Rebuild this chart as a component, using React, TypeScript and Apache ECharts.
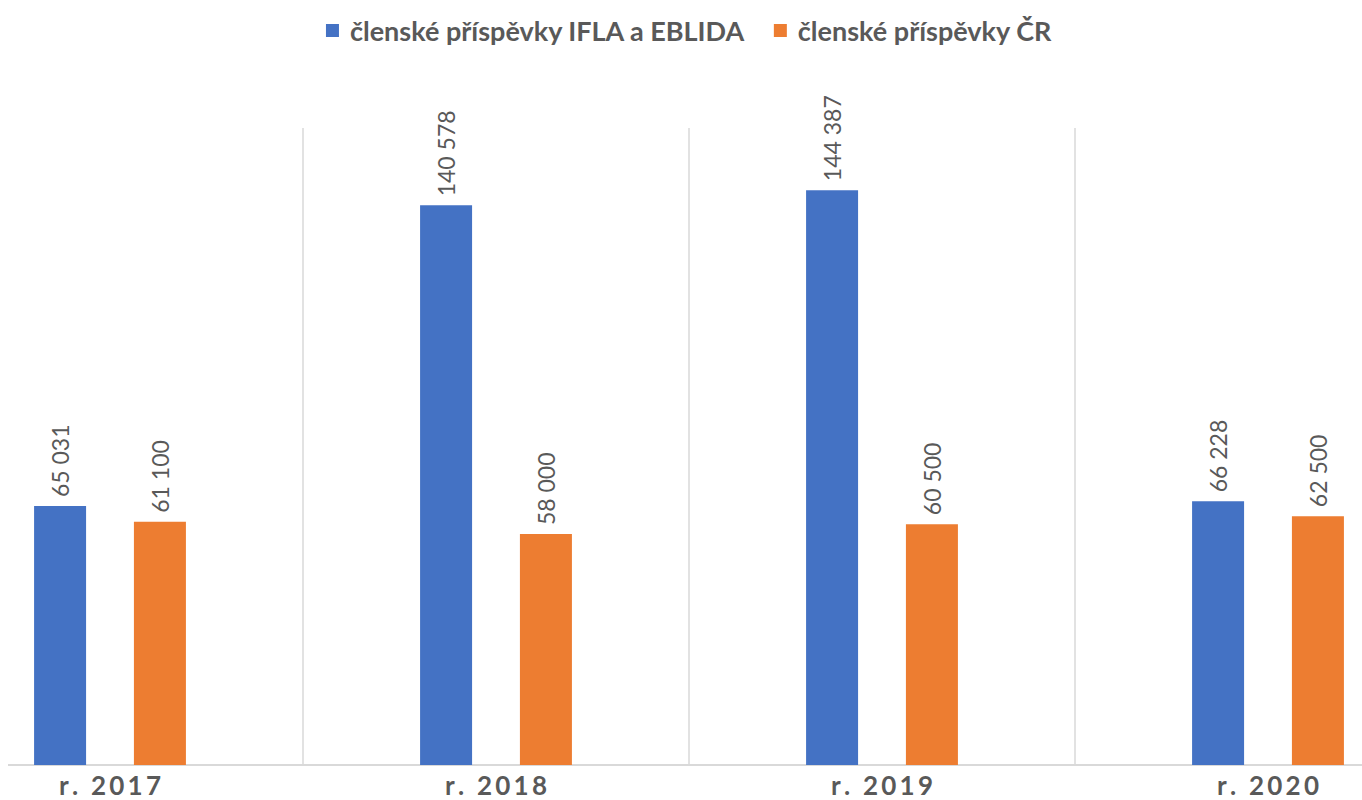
import React, { useEffect, useRef } from "react";
import * as echarts from "echarts";

const categories = ["r. 2017", "r. 2018", "r. 2019", "r. 2020"];
const seriesNames = ["členské příspěvky IFLA a EBLIDA", "členské příspěvky ČR"];
const iflaValues = [65031, 140578, 144387, 66228];
const crValues = [61100, 58000, 60500, 62500];
const colors = ["#4472C4", "#ED7D31"];

const fmt = (v: number) => String(v).replace(/\B(?=(\d{3})+(?!\d))/g, " ");
const spaced = (s: string) => s.split("").join("\u2009");

export default function App() {
  const ref = useRef<HTMLDivElement>(null);
  useEffect(() => {
    document.body.style.overflow = "hidden";
    const chart = echarts.init(ref.current!, null, { renderer: "svg" });
    const label = {
      show: true,
      position: "top",
      rotate: 90,
      align: "left",
      verticalAlign: "middle",
      distance: 9,
      color: "#595959",
      fontSize: 23,
      fontFamily: "Lato",
      formatter: (p: any) => fmt(p.value),
    };
    chart.setOption({
      animation: false,
      color: colors,
      legend: {
        top: 12,
        left: "center",
        icon: "rect",
        itemWidth: 13,
        itemHeight: 13,
        itemGap: 28,
        textStyle: {
          color: "#595959",
          fontSize: 27,
          fontWeight: "bold",
          fontFamily: "Lato",
          padding: [0, 0, 0, 6],
        },
        data: seriesNames,
      },
      grid: { left: 0, right: 0, top: 128, height: 637 },
      xAxis: {
        type: "category",
        data: categories,
        axisLine: { lineStyle: { color: "#d9d9d9", width: 2 } },
        axisTick: { show: false },
        splitLine: { show: true, lineStyle: { color: "#d9d9d9", width: 1.5 } },
        axisLabel: {
          margin: 7,
          color: "#595959",
          fontSize: 26,
          fontWeight: "bold",
          fontFamily: "Lato",
          formatter: (v: string) => spaced(v),
        },
      },
      yAxis: {
        type: "value",
        min: 0,
        max: 160000,
        show: false,
        splitLine: { show: false },
      },
      series: [
        { name: seriesNames[0], type: "bar", data: iflaValues, barWidth: 52, barGap: "92%", label },
        { name: seriesNames[1], type: "bar", data: crValues, barWidth: 52, barGap: "92%", label },
      ],
    });
    return () => chart.dispose();
  }, []);
  return (
    <div
      style={{
        position: "absolute",
        left: 8,
        top: 0,
        width: 1354,
        height: 800,
        overflow: "hidden",
      }}
    >
      <div
        ref={ref}
        style={{ position: "absolute", left: -91, top: 0, width: 1544, height: 800 }}
      />
    </div>
  );
}
